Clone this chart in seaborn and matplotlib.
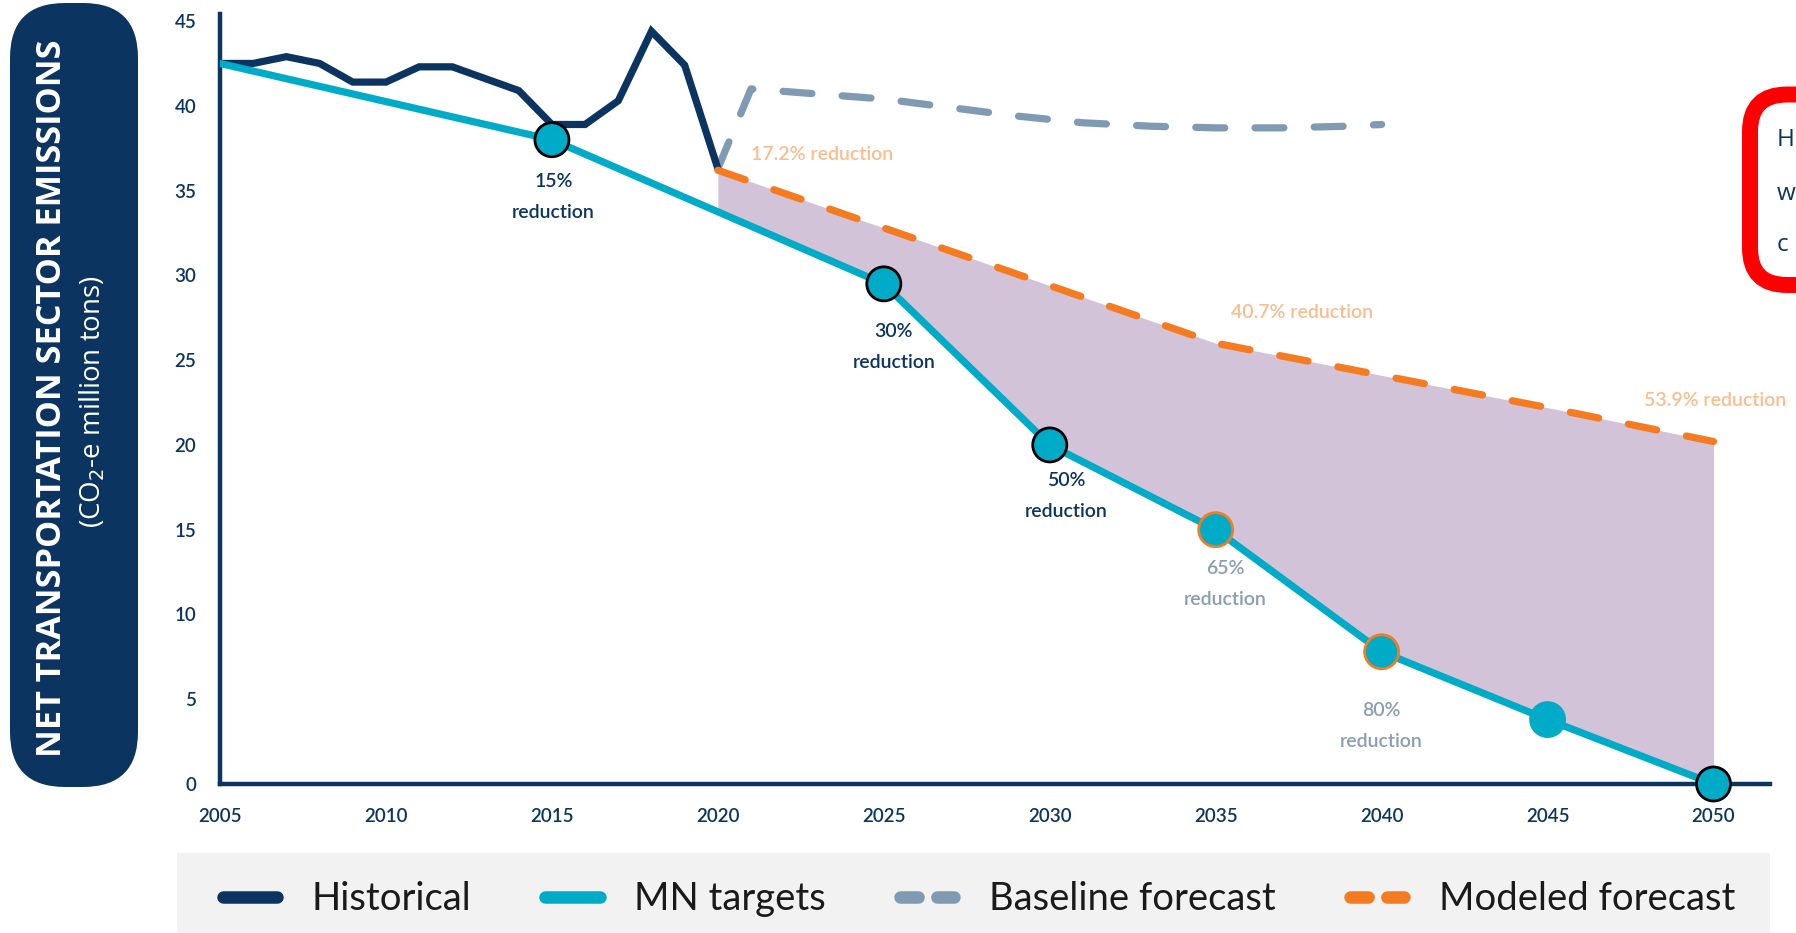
import numpy as np
import matplotlib
matplotlib.use("Agg")
import matplotlib.pyplot as plt
import seaborn as sns
from matplotlib.patches import FancyBboxPatch, Rectangle
from matplotlib.lines import Line2D

# ---------------- data ----------------
hist_years = [2005, 2006, 2007, 2008, 2009, 2010, 2011, 2012, 2013, 2014,
              2015, 2016, 2017, 2018, 2019, 2020]
hist_vals = [42.5, 42.5, 42.9, 42.5, 41.4, 41.4, 42.3, 42.3, 41.6, 40.9,
             38.9, 38.9, 40.3, 44.4, 42.4, 36.3]

target_years = [2005, 2015, 2025, 2030, 2035, 2040, 2045, 2050]
target_vals = [42.5, 38.0, 29.5, 20.0, 15.0, 7.8, 3.8, 0.0]

baseline_years = [2020, 2021, 2023, 2025, 2027, 2029, 2031, 2033, 2035, 2037, 2039, 2040]
baseline_vals = [36.3, 41.0, 40.7, 40.4, 39.9, 39.4, 39.0, 38.8, 38.7, 38.7, 38.8, 38.9]

modeled_years = [2020, 2025, 2030, 2035, 2040, 2045, 2050]
modeled_vals = [36.2, 32.8, 29.4, 26.0, 24.1, 22.2, 20.2]

marker_years = [2015, 2025, 2030, 2035, 2040, 2045, 2050]
marker_vals = [38.0, 29.5, 20.0, 15.0, 7.8, 3.8, 0.0]

target_labels = ["15%\nreduction", "30%\nreduction", "50%\nreduction",
                 "65%\nreduction", "80%\nreduction"]
modeled_labels = ["17.2% reduction", "40.7% reduction", "53.9% reduction"]

x_ticks = [2005, 2010, 2015, 2020, 2025, 2030, 2035, 2040, 2045, 2050]
y_ticks = [0, 5, 10, 15, 20, 25, 30, 35, 40, 45]

legend_labels = ["Historical", "MN targets", "Baseline forecast", "Modeled forecast"]

# ---------------- style ----------------
NAVY = "#0b3560"
TEAL = "#00abc8"
GRAYBLUE = "#7f9ab2"
ORANGE = "#f47b20"
LIGHTORANGE = "#f9bd8f"
FILL = "#d3c3d8"
GRAYTEXT = "#8a9db3"

sns.set_style("white")
plt.rcParams["font.family"] = ["Lato", "DejaVu Sans"]

fig = plt.figure(figsize=(17.96, 9.33), dpi=100)
ax = fig.add_axes([0.1225, 0.1597, 0.863, 0.825])

# shaded gap between modeled forecast and targets
grid = np.array(sorted(set(modeled_years) | set(y for y in target_years if y >= 2020)))
upper = np.interp(grid, modeled_years, modeled_vals)
lower = np.interp(grid, target_years, target_vals)
ax.fill_between(grid, lower, upper, color=FILL, lw=0, zorder=1)

# lines
sns.lineplot(x=baseline_years, y=baseline_vals, ax=ax, color=GRAYBLUE, lw=5.2, zorder=2)
ln = ax.lines[-1]
ln.set_dashes([4.0, 4.2])
ln.set_dash_capstyle("round")

sns.lineplot(x=hist_years, y=hist_vals, ax=ax, color=NAVY, lw=5.2, zorder=3)
ax.lines[-1].set_solid_joinstyle("miter")

sns.lineplot(x=modeled_years, y=modeled_vals, ax=ax, color=ORANGE, lw=5.2, zorder=4)
ln = ax.lines[-1]
ln.set_dashes([4.0, 4.2])
ln.set_dash_capstyle("round")

sns.lineplot(x=target_years, y=target_vals, ax=ax, color=TEAL, lw=5.2, zorder=5)

edge_cols = ["black", "black", "black", ORANGE, ORANGE, TEAL, "black"]
sns.scatterplot(x=marker_years, y=marker_vals, ax=ax, s=600, color=TEAL,
                edgecolor=edge_cols, linewidth=2.0, zorder=6, clip_on=False, legend=False)

# annotations
t_pos = [(2015.05, 34.6), (2025.3, 25.8), (2030.5, 17.0), (2035.3, 11.8), (2040.0, 3.4)]
t_col = [NAVY, NAVY, NAVY, GRAYTEXT, GRAYTEXT]
for (x, y), txt, c in zip(t_pos, target_labels, t_col):
    ax.text(x, y, txt, ha="center", va="center", fontsize=14, color=c,
            fontweight="semibold", linespacing=2.0, zorder=7)

m_pos = [(2021.0, 37.1, "left"), (2037.6, 27.8, "center"), (2047.9, 22.6, "left")]
for (x, y, ha), txt in zip(m_pos, modeled_labels):
    ax.text(x, y, txt, ha=ha, va="center", fontsize=14, color=LIGHTORANGE,
            fontweight="semibold", zorder=7, clip_on=False)

# axes styling
ax.set_xlim(2005, 2051.7)
ax.set_ylim(0, 45.4)
ax.set_xticks(x_ticks)
ax.set_yticks(y_ticks)
ax.set_xticklabels([str(v) for v in x_ticks])
ax.set_yticklabels([str(v) for v in y_ticks])
ax.tick_params(length=0, pad=17, labelsize=13.5, labelcolor=NAVY)
for lab in ax.get_xticklabels() + ax.get_yticklabels():
    lab.set_fontweight("semibold")
for s in ["top", "right"]:
    ax.spines[s].set_visible(False)
for s in ["left", "bottom"]:
    ax.spines[s].set_color(NAVY)
    ax.spines[s].set_linewidth(3.2)
ax.set_xlabel("")
ax.set_ylabel("")
ax.set_facecolor("none")

# y-label pill
pill = FancyBboxPatch((0.10, 1.46), 1.28, 7.84,
                      boxstyle="round,pad=0,rounding_size=0.55",
                      transform=fig.dpi_scale_trans, fc=NAVY, ec="none", zorder=0)
fig.patches.append(pill)
fig.text(0.0288, 0.573, "NET TRANSPORTATION SECTOR EMISSIONS", rotation=90,
         ha="center", va="center", color="white", fontsize=24.7,
         fontweight="bold", family=["Open Sans", "DejaVu Sans"])
fig.text(0.0515, 0.570, "(CO$_2$-e million tons)", rotation=90,
         ha="center", va="center", color="white", fontsize=20,
         family=["Open Sans", "DejaVu Sans"])

# red callout box (cut at the right edge)
callout = FancyBboxPatch((17.50, 6.48), 1.3, 1.905,
                         boxstyle="round,pad=0,rounding_size=0.37",
                         transform=fig.dpi_scale_trans, fc="white", ec="#ff0000",
                         lw=11.5, zorder=0)
fig.patches.append(callout)
for yy, ch in zip([0.850, 0.792, 0.737], ["H", "w", "c"]):
    fig.text(0.9891, yy, ch, ha="left", va="center", color=NAVY, fontsize=17.5,
             family=["Open Sans", "DejaVu Sans"])

# legend band
band = Rectangle((0.0986, 0.0), 0.887, 0.0857, transform=fig.transFigure,
                 fc="#f2f2f2", ec="none", zorder=0)
fig.patches.append(band)
handles = [
    Line2D([0], [0], color=NAVY, lw=9, solid_capstyle="round"),
    Line2D([0], [0], color=TEAL, lw=9, solid_capstyle="round"),
    Line2D([0], [0], color=GRAYBLUE, lw=9, linestyle=(0, (1.45, 1.5)), dash_capstyle="round"),
    Line2D([0], [0], color=ORANGE, lw=9, linestyle=(0, (1.45, 1.5)), dash_capstyle="round"),
]
fig.legend(handles, legend_labels, loc="center", bbox_to_anchor=(0.545, 0.036),
           ncol=4, frameon=False, handlelength=1.42, handletextpad=0.9,
           columnspacing=1.95, prop={"family": ["Lato", "DejaVu Sans"], "size": 27.5,
                                     "weight": "normal"},
           labelcolor="#1a1a1a")

fig.savefig("out.png", dpi=100)
